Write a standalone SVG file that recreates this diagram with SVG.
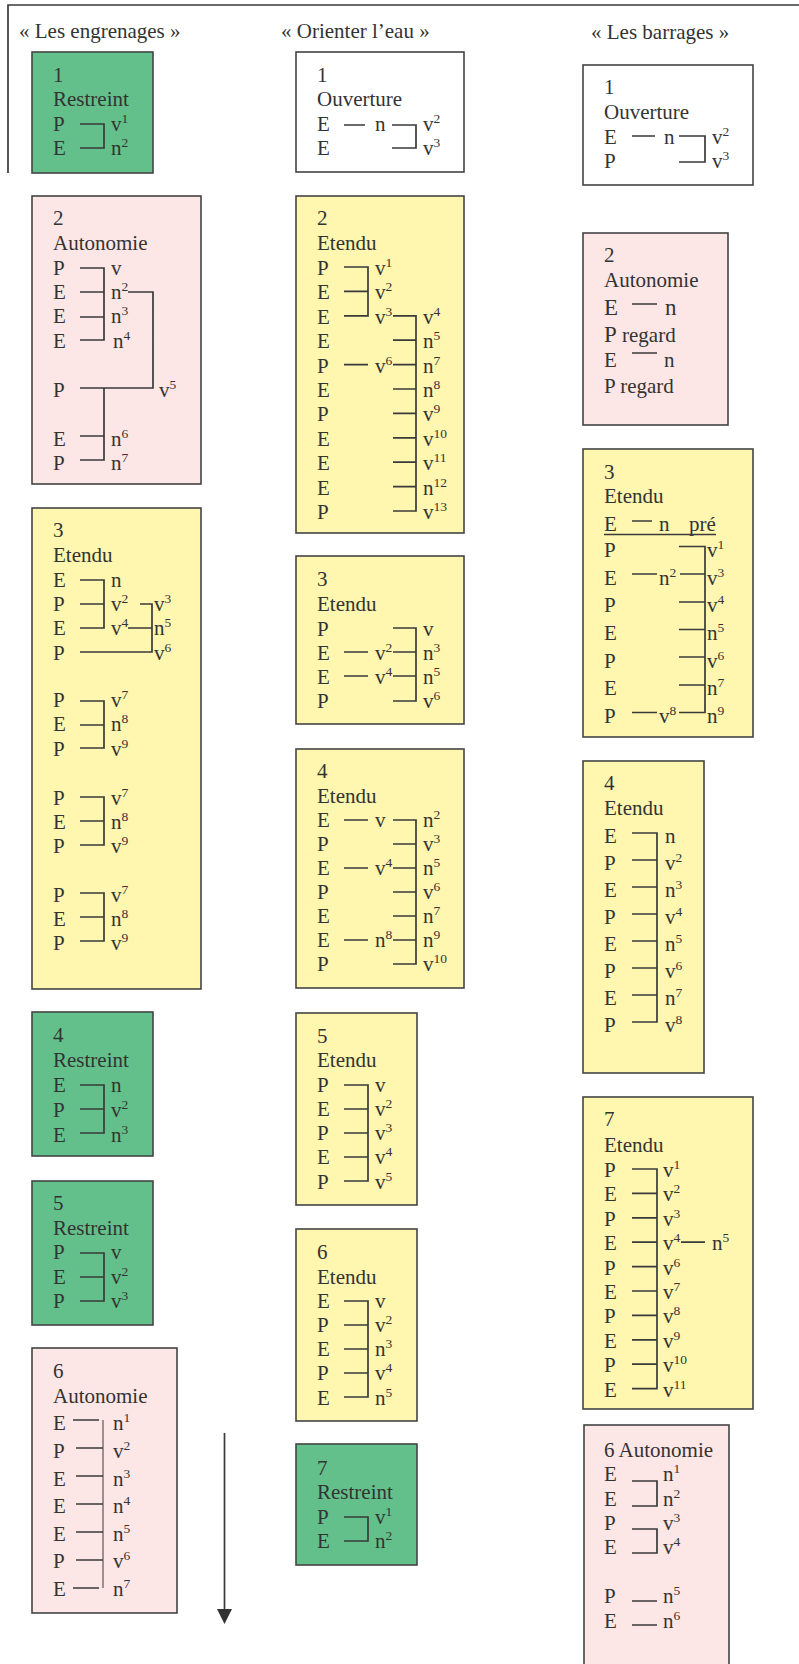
<svg xmlns="http://www.w3.org/2000/svg" width="799" height="1664" viewBox="0 0 799 1664">
<style>
text{font-family:"Liberation Serif","Times New Roman",serif;font-size:21px;fill:#333}
.s{font-size:13.5px}
.b{font-size:23px}
.ln{stroke:#3a3a3a;stroke-width:1.7;fill:none}
.thin{stroke:#3a3a3a;stroke-width:1;fill:none}
.box{stroke:#444;stroke-width:1.6}
.g{fill:#63c08a}.p{fill:#fde6e6}.y{fill:#fff6b0}.w{fill:#fff}
</style>
<rect width="799" height="1664" fill="#fff"/>
<g id="frame"><path class="ln" d="M8,173V5H799"/></g>
<g id="titles">
<text x="19" y="38">« Les engrenages »</text>
<text x="281" y="38">« Orienter l’eau »</text>
<text x="591" y="39">« Les barrages »</text>
</g>

<!-- Column 1 -->
<g id="c1n1">
<rect class="box g" x="32" y="52" width="121" height="121"/>
<text x="53" y="82">1</text><text x="53" y="106">Restreint</text>
<text x="53" y="131">P</text><text x="53" y="155">E</text>
<path class="ln" d="M80,124H104V148H80"/>
<text x="111" y="131">v<tspan class="s" dy="-8">1</tspan></text>
<text x="111" y="155">n<tspan class="s" dy="-8">2</tspan></text>
</g>

<g id="c1n2">
<rect class="box p" x="32" y="196" width="169" height="288"/>
<text x="53" y="225">2</text><text x="53" y="250">Autonomie</text>
<text x="53" y="275">P</text><text x="53" y="299">E</text><text x="53" y="323">E</text><text x="53" y="348">E</text>
<text x="53" y="397">P</text><text x="53" y="446">E</text><text x="53" y="470">P</text>
<path class="ln" d="M80,268H104V340H80M80,292H104M80,317H104M128,292H153V388H80M104,388V460H80M80,436H104"/>
<text x="111" y="275">v</text>
<text x="111" y="299">n<tspan class="s" dy="-8">2</tspan></text>
<text x="111" y="323">n<tspan class="s" dy="-8">3</tspan></text>
<text x="113" y="348">n<tspan class="s" dy="-8">4</tspan></text>
<text x="159" y="397">v<tspan class="s" dy="-8">5</tspan></text>
<text x="111" y="446">n<tspan class="s" dy="-8">6</tspan></text>
<text x="111" y="470">n<tspan class="s" dy="-8">7</tspan></text>
</g>

<g id="c1n3">
<rect class="box y" x="32" y="508" width="169" height="481"/>
<text x="53" y="537">3</text><text x="53" y="562">Etendu</text>
<text x="53" y="587">E</text><text x="53" y="611">P</text><text x="53" y="635">E</text><text x="53" y="660">P</text>
<path class="ln" d="M80,580H104V628H80M80,604H104M140,604H152V652H80M128,628H152"/>
<text x="111" y="587">n</text>
<text x="111" y="611">v<tspan class="s" dy="-8">2</tspan></text>
<text x="111" y="635">v<tspan class="s" dy="-8">4</tspan></text>
<text x="154" y="611">v<tspan class="s" dy="-8">3</tspan></text>
<text x="154" y="635">n<tspan class="s" dy="-8">5</tspan></text>
<text x="154" y="660">v<tspan class="s" dy="-8">6</tspan></text>
<text x="53" y="707">P</text><text x="53" y="731">E</text><text x="53" y="756">P</text>
<path class="ln" d="M80,701H104V748H80M80,725H104"/>
<text x="111" y="707">v<tspan class="s" dy="-8">7</tspan></text>
<text x="111" y="731">n<tspan class="s" dy="-8">8</tspan></text>
<text x="111" y="756">v<tspan class="s" dy="-8">9</tspan></text>
<text x="53" y="805">P</text><text x="53" y="829">E</text><text x="53" y="853">P</text>
<path class="ln" d="M80,797H104V845H80M80,821H104"/>
<text x="111" y="805">v<tspan class="s" dy="-8">7</tspan></text>
<text x="111" y="829">n<tspan class="s" dy="-8">8</tspan></text>
<text x="111" y="853">v<tspan class="s" dy="-8">9</tspan></text>
<text x="53" y="902">P</text><text x="53" y="926">E</text><text x="53" y="950">P</text>
<path class="ln" d="M80,893H104V941H80M80,917H104"/>
<text x="111" y="902">v<tspan class="s" dy="-8">7</tspan></text>
<text x="111" y="926">n<tspan class="s" dy="-8">8</tspan></text>
<text x="111" y="950">v<tspan class="s" dy="-8">9</tspan></text>
</g>

<g id="c1n4">
<rect class="box g" x="32" y="1012" width="121" height="144"/>
<text x="53" y="1042">4</text><text x="53" y="1067">Restreint</text>
<text x="53" y="1092">E</text><text x="53" y="1117">P</text><text x="53" y="1142">E</text>
<path class="ln" d="M80,1085H104V1133H80M80,1109H104"/>
<text x="111" y="1092">n</text>
<text x="111" y="1117">v<tspan class="s" dy="-8">2</tspan></text>
<text x="111" y="1142">n<tspan class="s" dy="-8">3</tspan></text>
</g>

<g id="c1n5">
<rect class="box g" x="32" y="1181" width="121" height="144"/>
<text x="53" y="1210">5</text><text x="53" y="1235">Restreint</text>
<text x="53" y="1259">P</text><text x="53" y="1284">E</text><text x="53" y="1308">P</text>
<path class="ln" d="M80,1253H104V1301H80M80,1277H104"/>
<text x="111" y="1259">v</text>
<text x="111" y="1284">v<tspan class="s" dy="-8">2</tspan></text>
<text x="111" y="1308">v<tspan class="s" dy="-8">3</tspan></text>
</g>

<g id="c1n6">
<rect class="box p" x="32" y="1348" width="145" height="265"/>
<text x="53" y="1378">6</text><text x="53" y="1403">Autonomie</text>
<text x="53" y="1430">E</text><text x="53" y="1458">P</text><text x="53" y="1486">E</text><text x="53" y="1513">E</text><text x="53" y="1541">E</text><text x="53" y="1568">P</text><text x="53" y="1596">E</text>
<path class="thin" d="M103,1420V1588"/>
<path class="ln" d="M73,1420H99M76,1448H103M76,1476H103M76,1504H103M76,1532H103M76,1560H103M73,1588H99"/>
<text x="113" y="1430">n<tspan class="s" dy="-8">1</tspan></text>
<text x="113" y="1458">v<tspan class="s" dy="-8">2</tspan></text>
<text x="113" y="1486">n<tspan class="s" dy="-8">3</tspan></text>
<text x="113" y="1513">n<tspan class="s" dy="-8">4</tspan></text>
<text x="113" y="1541">n<tspan class="s" dy="-8">5</tspan></text>
<text x="113" y="1568">v<tspan class="s" dy="-8">6</tspan></text>
<text x="113" y="1596">n<tspan class="s" dy="-8">7</tspan></text>
</g>

<!-- Column 2 -->
<g id="c2n1">
<rect class="box w" x="296" y="52" width="168" height="120"/>
<text x="317" y="82">1</text><text x="317" y="106">Ouverture</text>
<text x="317" y="131">E</text><text x="317" y="155">E</text>
<path class="ln" d="M344,125H365M392,125H416V148H392"/>
<text x="375" y="131">n</text>
<text x="423" y="131">v<tspan class="s" dy="-8">2</tspan></text>
<text x="423" y="155">v<tspan class="s" dy="-8">3</tspan></text>
</g>

<g id="c2n2">
<rect class="box y" x="296" y="196" width="168" height="337"/>
<text x="317" y="225">2</text><text x="317" y="250">Etendu</text>
<text x="317" y="275">P</text><text x="317" y="299.4">E</text><text x="317" y="323.8">E</text><text x="317" y="348.2">E</text><text x="317" y="372.6">P</text><text x="317" y="397">E</text><text x="317" y="421.4">P</text><text x="317" y="445.8">E</text><text x="317" y="470.2">E</text><text x="317" y="494.6">E</text><text x="317" y="519">P</text>
<path class="ln" d="M344,267H368V315.8H344M344,291.4H368M393,315.8H416V511H393M393,340.2H416M344,364.6H368M393,364.6H416M393,389H416M393,413.4H416M393,437.8H416M393,462.2H416M393,486.6H416"/>
<text x="375" y="275">v<tspan class="s" dy="-8">1</tspan></text>
<text x="375" y="299.4">v<tspan class="s" dy="-8">2</tspan></text>
<text x="375" y="323.8">v<tspan class="s" dy="-8">3</tspan></text>
<text x="375" y="372.6">v<tspan class="s" dy="-8">6</tspan></text>
<text x="423" y="323.8">v<tspan class="s" dy="-8">4</tspan></text>
<text x="423" y="348.2">n<tspan class="s" dy="-8">5</tspan></text>
<text x="423" y="372.6">n<tspan class="s" dy="-8">7</tspan></text>
<text x="423" y="397">n<tspan class="s" dy="-8">8</tspan></text>
<text x="423" y="421.4">v<tspan class="s" dy="-8">9</tspan></text>
<text x="423" y="445.8">v<tspan class="s" dy="-8">10</tspan></text>
<text x="423" y="470.2">v<tspan class="s" dy="-8">11</tspan></text>
<text x="423" y="494.6">n<tspan class="s" dy="-8">12</tspan></text>
<text x="423" y="519">v<tspan class="s" dy="-8">13</tspan></text>
</g>

<g id="c2n3">
<rect class="box y" x="296" y="556" width="168" height="168"/>
<text x="317" y="586">3</text><text x="317" y="611">Etendu</text>
<text x="317" y="636">P</text><text x="317" y="660">E</text><text x="317" y="684">E</text><text x="317" y="708">P</text>
<path class="ln" d="M393,628H416V701H393M344,652H368M393,652H416M344,676H368M393,676H416"/>
<text x="375" y="660">v<tspan class="s" dy="-8">2</tspan></text>
<text x="375" y="684">v<tspan class="s" dy="-8">4</tspan></text>
<text x="423" y="636">v</text>
<text x="423" y="660">n<tspan class="s" dy="-8">3</tspan></text>
<text x="423" y="684">n<tspan class="s" dy="-8">5</tspan></text>
<text x="423" y="708">v<tspan class="s" dy="-8">6</tspan></text>
</g>

<g id="c2n4">
<rect class="box y" x="296" y="749" width="168" height="239"/>
<text x="317" y="778">4</text><text x="317" y="803">Etendu</text>
<text x="317" y="827">E</text><text x="317" y="851">P</text><text x="317" y="875">E</text><text x="317" y="899">P</text><text x="317" y="923">E</text><text x="317" y="947">E</text><text x="317" y="971">P</text>
<path class="ln" d="M344,820H368M393,820H416V964H393M393,844H416M344,868H368M393,868H416M393,892H416M393,916H416M344,940H368M393,940H416"/>
<text x="375" y="827">v</text>
<text x="375" y="875">v<tspan class="s" dy="-8">4</tspan></text>
<text x="375" y="947">n<tspan class="s" dy="-8">8</tspan></text>
<text x="423" y="827">n<tspan class="s" dy="-8">2</tspan></text>
<text x="423" y="851">v<tspan class="s" dy="-8">3</tspan></text>
<text x="423" y="875">n<tspan class="s" dy="-8">5</tspan></text>
<text x="423" y="899">v<tspan class="s" dy="-8">6</tspan></text>
<text x="423" y="923">n<tspan class="s" dy="-8">7</tspan></text>
<text x="423" y="947">n<tspan class="s" dy="-8">9</tspan></text>
<text x="423" y="971">v<tspan class="s" dy="-8">10</tspan></text>
</g>

<g id="c2n5">
<rect class="box y" x="296" y="1013" width="121" height="192"/>
<text x="317" y="1043">5</text><text x="317" y="1067">Etendu</text>
<text x="317" y="1092">P</text><text x="317" y="1116">E</text><text x="317" y="1140">P</text><text x="317" y="1164">E</text><text x="317" y="1189">P</text>
<path class="ln" d="M344,1085H368V1181H344M344,1109H368M344,1133H368M344,1157H368"/>
<text x="375" y="1092">v</text>
<text x="375" y="1116">v<tspan class="s" dy="-8">2</tspan></text>
<text x="375" y="1140">v<tspan class="s" dy="-8">3</tspan></text>
<text x="375" y="1164">v<tspan class="s" dy="-8">4</tspan></text>
<text x="375" y="1189">v<tspan class="s" dy="-8">5</tspan></text>
</g>

<g id="c2n6">
<rect class="box y" x="296" y="1229" width="121" height="192"/>
<text x="317" y="1259">6</text><text x="317" y="1284">Etendu</text>
<text x="317" y="1308">E</text><text x="317" y="1332">P</text><text x="317" y="1356">E</text><text x="317" y="1380">P</text><text x="317" y="1405">E</text>
<path class="ln" d="M344,1301H368V1397H344M344,1325H368M344,1349H368M344,1373H368"/>
<text x="375" y="1308">v</text>
<text x="375" y="1332">v<tspan class="s" dy="-8">2</tspan></text>
<text x="375" y="1356">n<tspan class="s" dy="-8">3</tspan></text>
<text x="375" y="1380">v<tspan class="s" dy="-8">4</tspan></text>
<text x="375" y="1405">n<tspan class="s" dy="-8">5</tspan></text>
</g>

<g id="c2n7">
<rect class="box g" x="296" y="1444" width="121" height="121"/>
<text x="317" y="1475">7</text><text x="317" y="1499">Restreint</text>
<text x="317" y="1524">P</text><text x="317" y="1548">E</text>
<path class="ln" d="M344,1517H368V1541H344"/>
<text x="375" y="1524">v<tspan class="s" dy="-8">1</tspan></text>
<text x="375" y="1548">n<tspan class="s" dy="-8">2</tspan></text>
</g>

<!-- Column 3 -->
<g id="c3n1">
<rect class="box w" x="583" y="65" width="170" height="120"/>
<text x="604" y="94">1</text><text x="604" y="119">Ouverture</text>
<text x="604" y="144">E</text><text x="604" y="168">P</text>
<path class="ln" d="M632,136H655M679,136H705V162H679"/>
<text x="664" y="144">n</text>
<text x="712" y="144">v<tspan class="s" dy="-8">2</tspan></text>
<text x="712" y="168">v<tspan class="s" dy="-8">3</tspan></text>
</g>

<g id="c3n2">
<rect class="box p" x="583" y="233" width="145" height="192"/>
<text x="604" y="262">2</text><text x="604" y="287">Autonomie</text>
<text x="604" y="315" class="b">E</text>
<text x="665" y="315" class="b">n</text>
<text x="604" y="342"><tspan class="b">P</tspan> regard</text>
<text x="604" y="367">E</text>
<text x="664" y="367">n</text>
<text x="604" y="393">P regard</text>
<path class="ln" d="M632,304H657M632,353H657"/>
</g>

<g id="c3n3">
<rect class="box y" x="583" y="449" width="170" height="288"/>
<text x="604" y="479">3</text><text x="604" y="503">Etendu</text>
<text x="604" y="531">E</text><text x="659" y="531">n</text><text x="689" y="531">pré</text>
<path class="ln" d="M632,521H652M604,534.5H716"/>
<text x="604" y="557">P</text><text x="604" y="584.7">E</text><text x="604" y="612.3">P</text><text x="604" y="640">E</text><text x="604" y="667.7">P</text><text x="604" y="695.3">E</text><text x="604" y="723">P</text>
<path class="ln" d="M679,546.5H705V712.5H679M632,574H657M680,574H705M679,602H705M679,629.5H705M679,657H705M679,685H705M632,712.5H657"/>
<text x="659" y="584.7">n<tspan class="s" dy="-8">2</tspan></text>
<text x="659" y="723">v<tspan class="s" dy="-8">8</tspan></text>
<text x="707" y="557">v<tspan class="s" dy="-8">1</tspan></text>
<text x="707" y="584.7">v<tspan class="s" dy="-8">3</tspan></text>
<text x="707" y="612.3">v<tspan class="s" dy="-8">4</tspan></text>
<text x="707" y="640">n<tspan class="s" dy="-8">5</tspan></text>
<text x="707" y="667.7">v<tspan class="s" dy="-8">6</tspan></text>
<text x="707" y="695.3">n<tspan class="s" dy="-8">7</tspan></text>
<text x="707" y="723">n<tspan class="s" dy="-8">9</tspan></text>
</g>

<g id="c3n4">
<rect class="box y" x="583" y="761" width="121" height="312"/>
<text x="604" y="790">4</text><text x="604" y="815">Etendu</text>
<text x="604" y="843">E</text><text x="604" y="870">P</text><text x="604" y="897">E</text><text x="604" y="924">P</text><text x="604" y="951">E</text><text x="604" y="978">P</text><text x="604" y="1005">E</text><text x="604" y="1032">P</text>
<path class="ln" d="M632,833H657V1022H632M632,860H657M632,887H657M632,914H657M632,941H657M632,968H657M632,995H657"/>
<text x="665" y="843">n</text>
<text x="665" y="870">v<tspan class="s" dy="-8">2</tspan></text>
<text x="665" y="897">n<tspan class="s" dy="-8">3</tspan></text>
<text x="665" y="924">v<tspan class="s" dy="-8">4</tspan></text>
<text x="665" y="951">n<tspan class="s" dy="-8">5</tspan></text>
<text x="665" y="978">v<tspan class="s" dy="-8">6</tspan></text>
<text x="665" y="1005">n<tspan class="s" dy="-8">7</tspan></text>
<text x="665" y="1032">v<tspan class="s" dy="-8">8</tspan></text>
</g>

<g id="c3n7">
<rect class="box y" x="583" y="1097" width="170" height="312"/>
<text x="604" y="1126">7</text><text x="604" y="1152">Etendu</text>
<text x="604" y="1177">P</text><text x="604" y="1201.4">E</text><text x="604" y="1225.8">P</text><text x="604" y="1250.2">E</text><text x="604" y="1274.6">P</text><text x="604" y="1299">E</text><text x="604" y="1323.4">P</text><text x="604" y="1347.8">E</text><text x="604" y="1372.2">P</text><text x="604" y="1396.6">E</text>
<path class="ln" d="M632,1169H657V1388.6H632M632,1193.4H657M632,1217.8H657M632,1242.2H657M632,1266.6H657M632,1291H657M632,1315.4H657M632,1339.8H657M632,1364.2H657M681,1242.2H705"/>
<text x="663" y="1177">v<tspan class="s" dy="-8">1</tspan></text>
<text x="663" y="1201.4">v<tspan class="s" dy="-8">2</tspan></text>
<text x="663" y="1225.8">v<tspan class="s" dy="-8">3</tspan></text>
<text x="663" y="1250.2">v<tspan class="s" dy="-8">4</tspan></text>
<text x="712" y="1250.2">n<tspan class="s" dy="-8">5</tspan></text>
<text x="663" y="1274.6">v<tspan class="s" dy="-8">6</tspan></text>
<text x="663" y="1299">v<tspan class="s" dy="-8">7</tspan></text>
<text x="663" y="1323.4">v<tspan class="s" dy="-8">8</tspan></text>
<text x="663" y="1347.8">v<tspan class="s" dy="-8">9</tspan></text>
<text x="663" y="1372.2">v<tspan class="s" dy="-8">10</tspan></text>
<text x="663" y="1396.6">v<tspan class="s" dy="-8">11</tspan></text>
</g>

<g id="c3n6">
<rect class="box p" x="584" y="1425" width="145" height="260"/>
<text x="604" y="1457">6 Autonomie</text>
<text x="604" y="1481">E</text><text x="604" y="1506">E</text><text x="604" y="1530">P</text><text x="604" y="1554">E</text><text x="604" y="1603">P</text><text x="604" y="1628">E</text>
<path class="ln" d="M632,1481H657V1506H632M632,1529H657V1553H632M632,1601H657M632,1625H657"/>
<text x="663" y="1481">n<tspan class="s" dy="-8">1</tspan></text>
<text x="663" y="1506">n<tspan class="s" dy="-8">2</tspan></text>
<text x="663" y="1530">v<tspan class="s" dy="-8">3</tspan></text>
<text x="663" y="1554">v<tspan class="s" dy="-8">4</tspan></text>
<text x="663" y="1603">n<tspan class="s" dy="-8">5</tspan></text>
<text x="663" y="1628">n<tspan class="s" dy="-8">6</tspan></text>
</g>

<g id="connectors">
<path class="ln" d="M224.5,1433V1612"/>
<polygon points="217,1609 232,1609 224.5,1624" fill="#333"/>
</g>
</svg>
